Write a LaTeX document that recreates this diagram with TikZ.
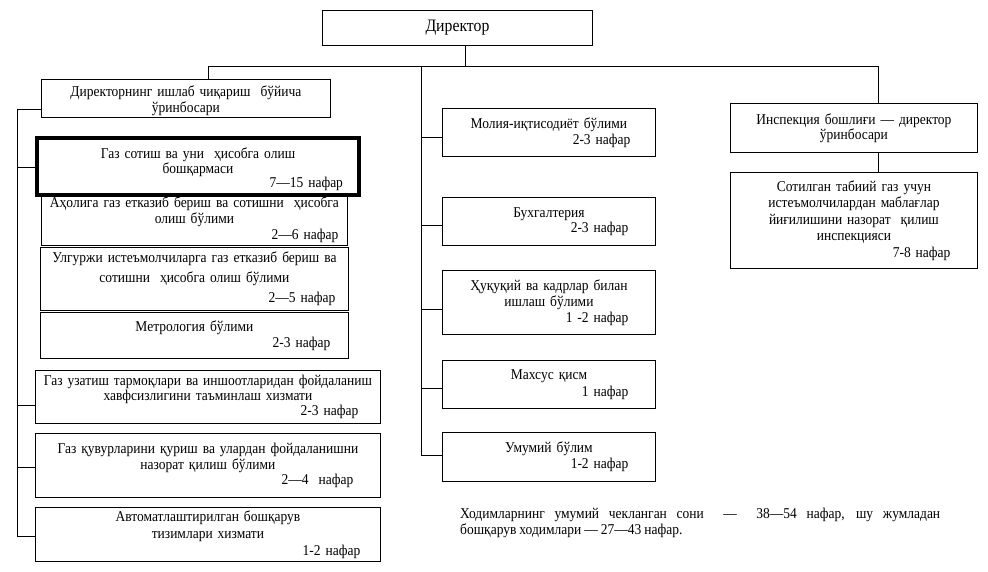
\documentclass[tikz,border=0pt]{standalone}
\usepackage{fontspec}
\setmainfont{Liberation Serif}[FakeStretch=0.9]
\newcommand{\nafar}[2]{\hspace*{\fill}#1\hspace*{#2pt}\mbox{}}
\newcommand{\bxfont}[2]{\fontsize{#1}{#2}\selectfont\spaceskip=3pt plus 2pt minus 0.5pt\relax}
\begin{document}
\begin{tikzpicture}[x=1pt,y=-1pt,
  box/.style={draw, line width=0.9pt, anchor=north west, inner sep=0pt, align=center,
    font=\bxfont{15}{16}},
  link/.style={draw, line width=0.9pt}]
\useasboundingbox (0,0) rectangle (988,572);
% Director
\node[box, minimum width=270pt, minimum height=35pt, font=\bxfont{17.5}{19}] (dir) at (322,10) {\raisebox{-2pt}{Директор}};
\coordinate (top) at (465,66);
\coordinate (tl) at (208,66);
\coordinate (tm) at (421,66);
\coordinate (tr) at (878,66);
% Left column
\node[box, minimum width=289pt, minimum height=38pt, text width=287pt] (dep) at (41,79)
 {\rule{0pt}{15pt}Директорнинг ишлаб чиқариш \ бўйича\\ўринбосари};
\node[box, line width=4pt, minimum width=322pt, minimum height=57pt, text width=318pt, font=\bxfont{15}{14.5}] (gs) at (35,136)
 {\rule{0pt}{17pt}Газ сотиш ва уни \ ҳисобга олиш\\бошқармаси\\\nafar{7—15 нафар}{14}};
\node[box, minimum width=306pt, minimum height=52pt, text width=304pt, font=\bxfont{15}{16}] (ah) at (41,193)
 {Аҳолига газ етказиб бериш ва сотишни \ ҳисобга\\олиш бўлими\\\nafar{2—6 нафар}{8}};
\node[box, minimum width=308pt, minimum height=63pt, text width=306pt, font=\bxfont{15}{20}] (ul) at (40,247)
 {Улгуржи истеъмолчиларга газ етказиб бериш ва\\сотишни \ ҳисобга олиш бўлими\\\nafar{2—5 нафар}{12}};
\node[box, minimum width=308pt, minimum height=46pt, text width=306pt, font=\bxfont{15}{16}] (met) at (40,312)
 {Метрология бўлими\\\nafar{2-3 нафар}{17}};
\node[box, minimum width=345pt, minimum height=53pt, text width=343pt, font=\bxfont{15}{15}] (gu) at (35,370)
 {Газ узатиш тармоқлари ва иншоотларидан фойдаланиш\\хавфсизлигини таъминлаш хизмати\\\nafar{2-3 нафар}{21}};
\node[box, minimum width=345pt, minimum height=64pt, text width=343pt, font=\bxfont{15}{15.5}] (gk) at (35,433)
 {Газ қувурларини қуриш ва улардан фойдаланишни\\назорат қилиш бўлими\\\nafar{2—4 \ нафар}{26}};
\node[box, minimum width=345pt, minimum height=54pt, text width=343pt, font=\bxfont{15}{17}] (av) at (35,507)
 {Автоматлаштирилган бошқарув\\тизимлари хизмати\\\nafar{1-2 нафар}{19}};
% Middle column
\node[box, minimum width=213pt, minimum height=48pt, text width=211pt, font=\bxfont{15}{16}] (mo) at (442,108)
 {Молия-иқтисодиёт бўлими\\\nafar{2-3 нафар}{24}};
\node[box, minimum width=213pt, minimum height=48pt, text width=211pt, font=\bxfont{15}{14.5}] (bu) at (442,197)
 {Бухгалтерия\\\nafar{2-3 нафар}{26}};
\node[box, minimum width=213pt, minimum height=64pt, text width=211pt, font=\bxfont{15}{16}] (hu) at (442,270)
 {Ҳуқуқий ва кадрлар билан\\ишлаш бўлими\\\nafar{1 -2 нафар}{26}};
\node[box, minimum width=213pt, minimum height=48pt, text width=211pt, font=\bxfont{15}{17}] (ma) at (442,360)
 {Махсус қисм\\\nafar{1 нафар}{26}};
\node[box, minimum width=213pt, minimum height=49pt, text width=211pt, font=\bxfont{15}{16}] (um) at (442,432)
 {Умумий бўлим\\\nafar{1-2 нафар}{26}};
% Right column
\node[box, minimum width=247pt, minimum height=49pt, text width=245pt, font=\bxfont{15}{15}] (ih) at (730,103)
 {Инспекция бошлиғи — директор\\ўринбосари};
\node[box, minimum width=247pt, minimum height=96pt, text width=245pt, font=\bxfont{15}{16.5}] (in) at (730,172)
 {Сотилган табиий газ учун\\истеъмолчилардан маблағлар\\йиғилишини назорат \ қилиш\\инспекцияси\\\nafar{7-8 нафар}{26}};
% Footer
\node[anchor=north west, inner sep=0pt, text width=480pt, align=justify, font=\bxfont{15}{16}] (foot) at (460,508)
 {Ходимларнинг умумий чекланган сони \ — \ 38—54 нафар, шу жумладан\linebreak бошқарув ходимлари — 27—43 нафар.};
% Connectors
\draw[link] (dir.south -| top) -- (top);
\draw[link] (tl) -- (tr);
\draw[link] (tl) -- (tl |- dep.north);
\draw[link] (tr) -- (tr |- ih.north);
\draw[link] (ih.south -| tr) -- (in.north -| tr);
% left spine
\coordinate (ls1) at (17,109);
\coordinate (ls2) at (17,536);
\draw[link] (ls1) -- (ls2);
\draw[link] (ls1) -- (dep.west |- ls1);
\draw[link] (17,167) -- (gs.west |- 0,167);
\draw[link] (17,405) -- (gu.west |- 0,405);
\draw[link] (17,467) -- (gk.west |- 0,467);
\draw[link] (ls2) -- (av.west |- ls2);
% middle spine
\coordinate (ms) at (421,455);
\draw[link] (tm) -- (ms);
\draw[link] (421,137) -- (mo.west |- 0,137);
\draw[link] (421,225) -- (bu.west |- 0,225);
\draw[link] (421,309) -- (hu.west |- 0,309);
\draw[link] (421,388) -- (ma.west |- 0,388);
\draw[link] (ms) -- (um.west |- ms);
\end{tikzpicture}
\end{document}
